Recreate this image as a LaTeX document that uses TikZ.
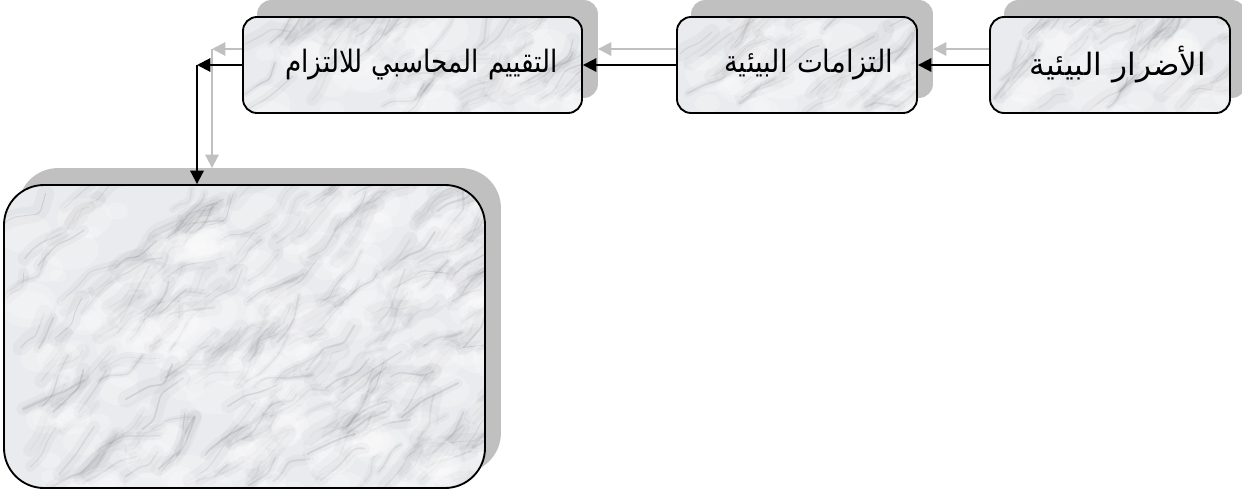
\documentclass[tikz,border=0pt]{standalone}
\usepackage{fontspec}
\newfontfamily\arabicfont[Script=Arabic]{DejaVu Sans}
\TeXXeTstate=1
\usetikzlibrary{arrows.meta,calc,backgrounds}
\definecolor{shadowgray}{RGB}{192,192,192}
\definecolor{marblebase}{RGB}{234,235,238}
\definecolor{vein}{RGB}{100,103,110}
\tikzset{
  marble/.style n args={2}{path picture={
    \path (path picture bounding box.south west) coordinate (pSW)
          (path picture bounding box.north east) coordinate (pNE);
    \pgfmathsetseed{#1}
    \foreach \k in {1,...,#2}{
      \pgfmathsetmacro\vPx{rnd}
      \pgfmathsetmacro\vPy{rnd}
      \pgfmathsetmacro\vA{-25-rnd*30}
      \pgfmathsetmacro\vLa{6+rnd*22}
      \pgfmathsetmacro\vB{\vA+rnd*80-40}
      \pgfmathsetmacro\vLb{6+rnd*22}
      \pgfmathsetmacro\vC{\vA+rnd*80-40}
      \pgfmathsetmacro\vLc{6+rnd*22}
      \pgfmathsetmacro\vW{0.4+rnd*1.3}
      \pgfmathsetmacro\vO{0.05+rnd*0.13}
      \pgfmathsetmacro\vBig{4+rnd*9}
      \pgfmathsetmacro\vR{8+rnd*20}
      \coordinate (qx) at ($(pSW)!\vPx!(pNE)$);
      \coordinate (qy) at ($(pSW)!\vPy!(pNE)$);
      \draw[vein, line width=\vBig pt, opacity=0.05, line cap=round, line join=round, rounded corners=6pt]
        (qx|-qy) -- ++(\vA:\vLa) -- ++(\vB:\vLb) -- ++(\vC:\vLc);
      \draw[vein, line width=\vW pt, opacity=\vO, line cap=round, line join=round, rounded corners=3pt]
        (qx|-qy) -- ++(\vA:\vLa) -- ++(\vB:\vLb) -- ++(\vC:\vLc);
      \fill[white, opacity=0.22] ($(qx|-qy)+(20,10)$) ellipse ({\vR*0.75pt} and {\vR*0.55pt});
    }
  }},
  box/.style={draw, line width=1.4pt, fill=marblebase, inner sep=0pt,
    font=\fontsize{21}{25}\selectfont, text=black, align=right},
  conn/.style={line width=1.5pt, -{Triangle[length=10pt,width=10pt]}},
  gconn/.style={conn, draw=shadowgray, fill=shadowgray},
}
\begin{document}
\begin{tikzpicture}[x=0.75pt, y=-0.75pt]
\useasboundingbox (0,0) rectangle (1242,493);

\node[box, marble={3}{35}, rounded corners=10.5pt, minimum width=180pt, minimum height=72pt, text width=144pt]
  (harm) at (1110,65) {\scalebox{1.11}[1.1]{\arabicfont\beginR الأضرار البيئية\endR}};
\node[box, marble={5}{35}, rounded corners=10.5pt, minimum width=180pt, minimum height=72pt, text width=144pt]
  (oblig) at (797,65) {\scalebox{0.98}[1.1]{\arabicfont\beginR التزامات البيئية\endR}};
\node[box, marble={7}{50}, rounded corners=10.5pt, minimum width=254.25pt, minimum height=72pt, text width=218.25pt]
  (eval) at (412.5,65) {\scalebox{0.94}[1.1]{\arabicfont\beginR التقييم المحاسبي للالتزام\endR}};
\node[box, marble={11}{230}, rounded corners=30pt, minimum width=360.75pt, minimum height=227.25pt]
  (big) at (244.5,336.5) {};

\coordinate (elbow) at (197,65);

\begin{scope}[on background layer]
  \foreach \n/\r in {harm/10.5pt, oblig/10.5pt, eval/10.5pt, big/30pt}{
    \fill[shadowgray, rounded corners=\r]
      ([shift={(15,-16)}]\n.south west) rectangle ([shift={(15,-16)}]\n.north east);
  }
  \draw[gconn] ([shift={(15,-16)}]harm.west) -- ([shift={(15,-16)}]oblig.east);
  \draw[gconn] ([shift={(15,-16)}]oblig.west) -- ([shift={(15,-16)}]eval.east);
  \draw[gconn] ([shift={(15,-16)}]eval.west) -- ([shift={(15,-16)}]elbow);
  \draw[gconn] ([shift={(15,-16)}]elbow) -- ([shift={(15,-16)}]elbow |- big.north);
\end{scope}

\draw[conn] (harm.west) -- (oblig.east);
\draw[conn] (oblig.west) -- (eval.east);
\draw[conn] (eval.west) -- (elbow);
\draw[conn] (elbow) -- (elbow |- big.north);
\end{tikzpicture}
\end{document}
